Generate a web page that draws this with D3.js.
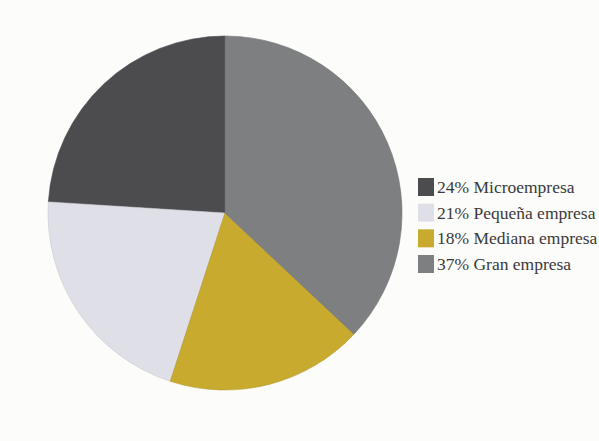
<!DOCTYPE html>
<html><head><meta charset="utf-8">
<script src="https://cdn.jsdelivr.net/npm/d3@7"></script>
<style>html,body{margin:0;padding:0;background:#fcfcfb;}svg{display:block;}</style>
</head><body>
<svg id="c" width="599" height="441"></svg>
<script>
const categories = ["Microempresa", "Pequeña empresa", "Mediana empresa", "Gran empresa"];
const values = [24, 21, 18, 37];
const labels = ["24% Microempresa", "21% Pequeña empresa", "18% Mediana empresa", "37% Gran empresa"];
const colors = ["#4c4b4e", "#dfdfe7", "#c7aa2e", "#7e7f80"];

const svg = d3.select("#c");
const cx = 225, cy = 213, r = 177;
const data = categories.map((c, i) => ({cat: c, value: values[i], label: labels[i], color: colors[i]}));

const pie = d3.pie().value(d => d.value).sort(null).startAngle(0).endAngle(-2 * Math.PI);
const arc = d3.arc().innerRadius(0).outerRadius(r);

svg.append("g").attr("transform", `translate(${cx},${cy})`)
  .selectAll("path").data(pie(data)).join("path")
  .attr("d", arc).attr("fill", d => d.data.color)
  .attr("stroke", d => d3.color(d.data.color).darker(0.3)).attr("stroke-width", 0.6);

const y = d3.scalePoint().domain(categories).range([187, 264]);
const lg = svg.append("g");
const rows = lg.selectAll("g").data(data).join("g")
  .attr("transform", d => `translate(418,${y(d.cat)})`);
rows.append("rect").attr("x", 0).attr("y", -9).attr("width", 16).attr("height", 18)
  .attr("fill", d => d.color);
rows.append("text").attr("x", 19).attr("y", 0).attr("dy", "0.35em")
  .attr("font-family", "Liberation Serif, DejaVu Serif, serif").attr("font-size", 17.5)
  .attr("fill", "#3a3a3a").text(d => d.label);
</script>
</body></html>
